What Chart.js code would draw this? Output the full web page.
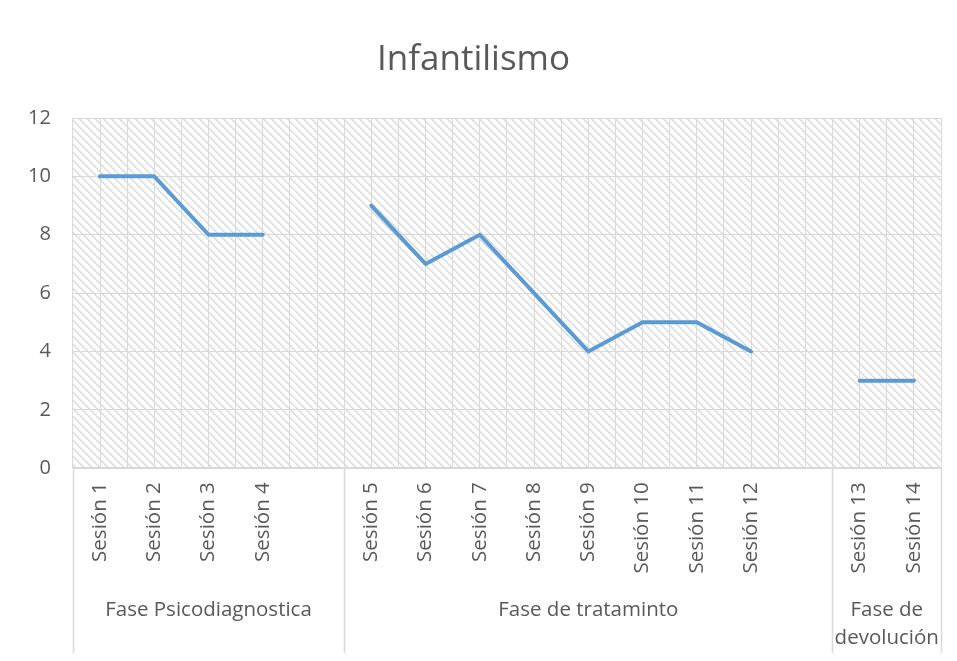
<!DOCTYPE html>
<html>
<head>
<meta charset="utf-8">
<script src="https://cdn.jsdelivr.net/npm/chart.js@4/dist/chart.umd.min.js"></script>
<style>
  html, body { margin: 0; padding: 0; background: #fff; overflow: hidden; }
  #frame { position: absolute; left: 9px; top: 11px; width: 960px; height: 700px; border: 2px solid #d9d9d9; box-sizing: border-box; }
  #wrap { position: absolute; left: 0; top: 0; width: 957px; height: 661px; }
</style>
</head>
<body>
<div id="frame"></div>
<div id="wrap"><canvas id="chart"></canvas></div>
<script>
// data
const sessions = ['Sesión 1', 'Sesión 2', 'Sesión 3', 'Sesión 4', '',
  'Sesión 5', 'Sesión 6', 'Sesión 7', 'Sesión 8', 'Sesión 9', 'Sesión 10', 'Sesión 11', 'Sesión 12', '',
  'Sesión 13', 'Sesión 14'];
const values = [10, 10, 8, 8, null, 9, 7, 8, 6, 4, 5, 5, 4, null, 3, 3];
const phases = ['Fase Psicodiagnostica', 'Fase de tratam' + 'into', 'Fase de devolución'];
const phaseSizes = [5, 9, 2];
const yTicks = [0, 2, 4, 6, 8, 10, 12];

const gray = '#595959';
const light = '#d9d9d9';
const font = 'Open Sans';

// group centres and borders on the index scale
const phaseBounds = [-0.5];
const phaseCenters = [];
phaseSizes.forEach(n => {
  const start = phaseBounds[phaseBounds.length - 1];
  phaseCenters.push(start + n / 2);
  phaseBounds.push(start + n);
});

// hatched fill for the plot area
function makeHatch() {
  const c = document.createElement('canvas');
  c.width = 8; c.height = 8;
  const g = c.getContext('2d');
  g.fillStyle = '#dcdcdc';
  for (let i = 0; i < 8; i++) {
    g.fillRect(i, i, 2, 1);
    if (i === 7) g.fillRect(0, 7, 1, 1);
  }
  return g.createPattern(c, 'repeat');
}

const hatchPlugin = {
  id: 'hatch',
  beforeDraw(chart) {
    const { ctx, chartArea: a } = chart;
    ctx.save();
    ctx.fillStyle = '#fff';
    ctx.fillRect(0, 0, chart.width, chart.height);
    ctx.fillStyle = makeHatch();
    ctx.fillRect(a.left, a.top, a.right - a.left, a.bottom - a.top);
    ctx.restore();
  }
};

// vertical separators between the phases, below the plot
const phaseLines = {
  id: 'phaseLines',
  afterDraw(chart) {
    const { ctx, chartArea: a } = chart;
    const sc = chart.scales.phase;
    ctx.save();
    ctx.strokeStyle = light;
    ctx.lineWidth = 1.5;
    phaseBounds.forEach(b => {
      const x = Math.round(sc.getPixelForValue(b)) + 0.5;
      ctx.beginPath();
      ctx.moveTo(x, a.bottom);
      ctx.lineTo(x, chart.height - 8);
      ctx.stroke();
    });
    ctx.restore();
  }
};

new Chart(document.getElementById('chart'), {
  type: 'line',
  data: {
    labels: sessions,
    datasets: [{
      label: 'Infantilismo',
      data: values,
      borderColor: '#5b9bd5',
      borderWidth: 4,
      pointRadius: 0,
      tension: 0,
      spanGaps: false,
      borderJoinStyle: 'round',
      borderCapStyle: 'round'
    }]
  },
  options: {
    responsive: true,
    maintainAspectRatio: false,
    animation: false,
    layout: { padding: { left: 6, right: 16, top: 27, bottom: 0 } },
    plugins: {
      legend: { display: false },
      tooltip: { enabled: false },
      title: {
        display: true,
        text: 'Infantilismo',
        color: gray,
        font: { family: font, size: 35, weight: 'normal' },
        padding: { top: 12, bottom: 37 }
      }
    },
    scales: {
      x: {
        type: 'category',
        offset: true,
        weight: 0,
        grid: { display: false, drawTicks: false },
        border: { display: true, color: light, width: 1.5 },
        ticks: {
          color: gray,
          font: { family: font, size: 20.5 },
          minRotation: 90,
          maxRotation: 90,
          autoSkip: false,
          padding: 14
        }
      },
      xgrid: {
        type: 'linear',
        position: 'bottom',
        weight: 1,
        min: -0.5,
        max: sessions.length - 0.5,
        afterBuildTicks: s => {
          const t = [];
          for (let v = -0.5; v <= sessions.length - 0.5; v += 0.5) t.push({ value: v });
          s.ticks = t;
        },
        afterFit: s => { s.height = 0; },
        grid: { color: light, lineWidth: 1, drawTicks: false },
        border: { display: false },
        ticks: { display: false }
      },
      phase: {
        type: 'linear',
        position: 'bottom',
        weight: 3,
        min: -0.5,
        max: sessions.length - 0.5,
        afterBuildTicks: s => { s.ticks = phaseCenters.map(v => ({ value: v })); },
        grid: { display: false, drawTicks: false },
        border: { display: false },
        ticks: {
          color: gray,
          font: { family: font, size: 20.5, lineHeight: 1.4 },
          autoSkip: false,
          minRotation: 0,
          maxRotation: 0,
          padding: 8,
          callback: (v, i) => {
            const name = phases[i];
            if (phaseSizes[i] < 3) {
              const k = name.lastIndexOf(' ');
              return [name.slice(0, k), name.slice(k + 1)];
            }
            return name;
          }
        }
      },
      y: {
        min: 0,
        max: 12,
        afterBuildTicks: s => { s.ticks = yTicks.map(v => ({ value: v })); },
        grid: { color: light, lineWidth: 1, drawTicks: false },
        border: { display: false },
        ticks: {
          color: gray,
          font: { family: font, size: 20 },
          padding: 22
        }
      }
    }
  },
  plugins: [hatchPlugin, phaseLines]
});
</script>
</body>
</html>
